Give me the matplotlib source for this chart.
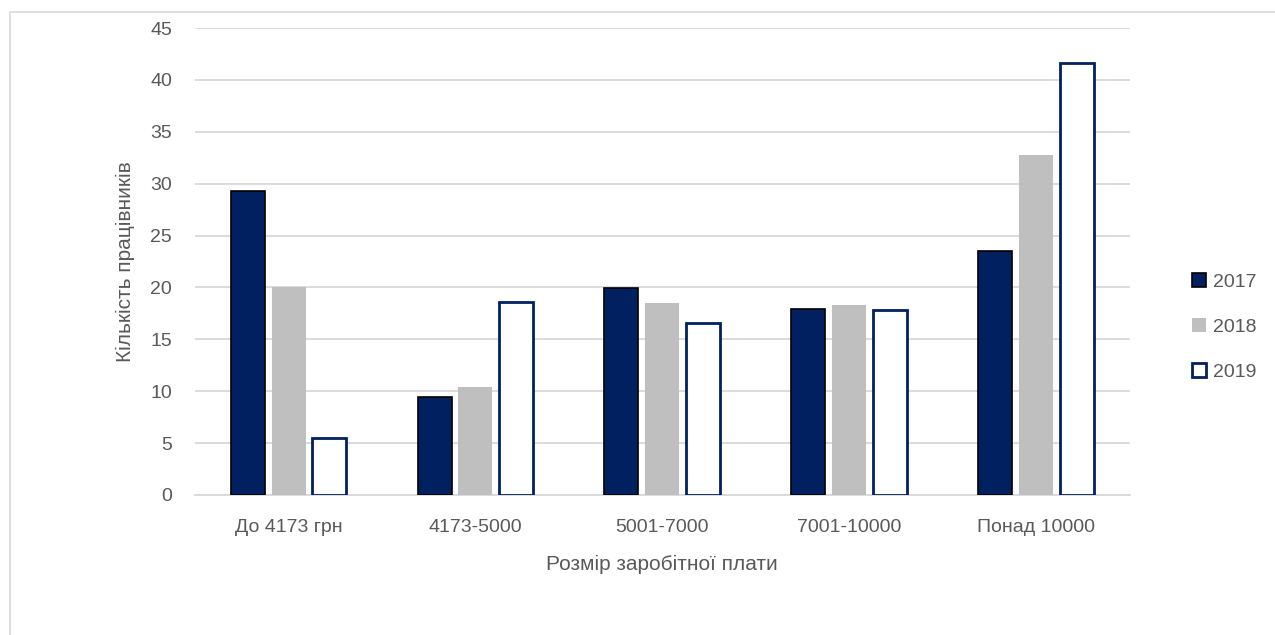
import matplotlib.pyplot as plt
import numpy as np
from matplotlib.patches import Rectangle

# Дані: кількість працівників за розміром заробітної плати
categories = ['До 4173 грн', '4173-5000', '5001-7000', '7001-10000', 'Понад 10000']
years = ['2017', '2018', '2019']
values_2017 = [29.3, 9.4, 19.9, 17.9, 23.5]
values_2018 = [20.0, 10.4, 18.5, 18.3, 32.8]
values_2019 = [5.5, 18.6, 16.6, 17.8, 41.6]
y_ticks = [0, 5, 10, 15, 20, 25, 30, 35, 40, 45]

plt.rcParams['font.family'] = ['Liberation Sans', 'DejaVu Sans']
text_color = '#595959'
grid_color = '#d9d9d9'
navy = '#002060'

fig = plt.figure(figsize=(12.75, 6.35), dpi=100)
ax = fig.add_axes([0.153, 0.2205, 0.733, 0.7354])

# Рамка навколо діаграми
fig.patches.append(Rectangle((10 / 1275, -0.01), 1.02, 1 - 12 / 635 + 0.01,
                             transform=fig.transFigure, fill=False,
                             edgecolor=grid_color, linewidth=1.2))

x = np.arange(len(categories))
step = 0.219
width = 0.182

ax.bar(x - step, values_2017, width, color=navy, edgecolor='black',
       linewidth=1.2, label=years[0], zorder=3)
ax.bar(x, values_2018, width, color='#bfbfbf', edgecolor='none',
       label=years[1], zorder=3)
ax.bar(x + step, values_2019, width, color='white', edgecolor=navy,
       linewidth=2, label=years[2], zorder=3)

ax.set_xlim(-0.5, len(categories) - 0.5)
ax.set_ylim(0, 45)
ax.set_yticks(y_ticks)
ax.set_xticks(x)
ax.set_xticklabels(categories)
ax.tick_params(axis='both', length=0, labelsize=14, colors=text_color)
ax.tick_params(axis='x', pad=17)
ax.tick_params(axis='y', pad=16.5)
ax.yaxis.grid(True, color=grid_color, linewidth=1.3, zorder=0)

for name, spine in ax.spines.items():
    spine.set_visible(False)
ax.spines['bottom'].set_visible(True)
ax.spines['bottom'].set_color(grid_color)
ax.spines['bottom'].set_linewidth(1.3)

ax.set_xlabel('Розмір заробітної плати', fontsize=15, color=text_color, labelpad=14)
ax.set_ylabel('Кількість працівників', fontsize=15, color=text_color, labelpad=11)

# Легенда праворуч від області побудови
leg = fig.legend(*ax.get_legend_handles_labels(), loc='center left',
                 bbox_to_anchor=(1192 / 1275, 1 - 327 / 635), frameon=False,
                 fontsize=14, labelcolor=text_color, handlelength=0.72,
                 handleheight=0.72, handletextpad=0.36, labelspacing=1.42,
                 borderpad=0, borderaxespad=0)

plt.savefig('out.png', dpi=100, facecolor='white')
